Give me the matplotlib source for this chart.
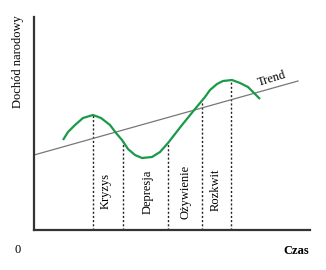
import matplotlib
matplotlib.use("Agg")

import matplotlib.pyplot as plt

# ── Dane (jednostki umowne) ─────────────────────────────────────────
cycle_x = [29, 34, 41, 49, 59, 67, 76, 82, 88, 94, 101, 108, 118, 126,
           134, 141, 148, 161, 171, 176, 183, 189, 198, 206, 214, 221, 226]
cycle_y = [90, 98, 105, 112, 115, 112, 105, 97, 90, 81, 75, 72, 73, 78,
           87, 96, 105, 121, 133, 140, 146, 149, 150, 147, 143, 136, 131]

trend_x = [0, 264]
trend_y = [75, 149]

phase_x = [59, 89, 134, 168, 197]
phase_top = [115, 89, 87, 129, 150]

phase_labels = ["Kryzys", "Depresja", "Ożywienie", "Rozkwit"]
label_x = [72, 114, 151, 182]
label_y = [39, 38, 38, 40]

W, H = 326, 270
SERIF = ["Liberation Serif", "DejaVu Serif"]

fig = plt.figure(figsize=(W / 100, H / 100), dpi=100)
ax = fig.add_axes([34 / W, 40 / H, 276 / W, 213 / H])
ax.set_xlim(0, 276)
ax.set_ylim(0, 213)

for s in ["top", "right"]:
    ax.spines[s].set_visible(False)
for s in ["left", "bottom"]:
    ax.spines[s].set_linewidth(1.6)
    ax.spines[s].set_color("#333333")
ax.set_xticks([])
ax.set_yticks([])

# trend
ax.plot(trend_x, trend_y, color="#777777", linewidth=0.9, zorder=2)
ax.text(238, 151, "Trend", rotation=17, fontsize=9, family=SERIF,
        ha="center", va="center")

# fazy cyklu
for x, top in zip(phase_x, phase_top):
    ax.plot([x, x], [0, top], color="#222222", linewidth=1.0,
            linestyle=(0, (1.5, 1.5)), zorder=1)

for lab, x, y in zip(phase_labels, label_x, label_y):
    ax.text(x, y, lab, rotation=90, fontsize=9, family=SERIF,
            ha="center", va="center")

# cykl koniunkturalny
ax.plot(cycle_x, cycle_y, color="#1a9a48", linewidth=1.6,
        solid_joinstyle="round", solid_capstyle="butt", zorder=3)

fig.text(18 / W, 1 - 62 / H, "Dochód narodowy", rotation=90, fontsize=9,
         family=SERIF, ha="center", va="center")
fig.text(18 / W, 1 - 250 / H, "0", fontsize=9, family=SERIF,
         ha="center", va="center")
fig.text(296 / W, 1 - 251 / H, "Czas", fontsize=9, family=SERIF,
         fontweight="bold", ha="center", va="center")

fig.savefig("out.png", dpi=100)
